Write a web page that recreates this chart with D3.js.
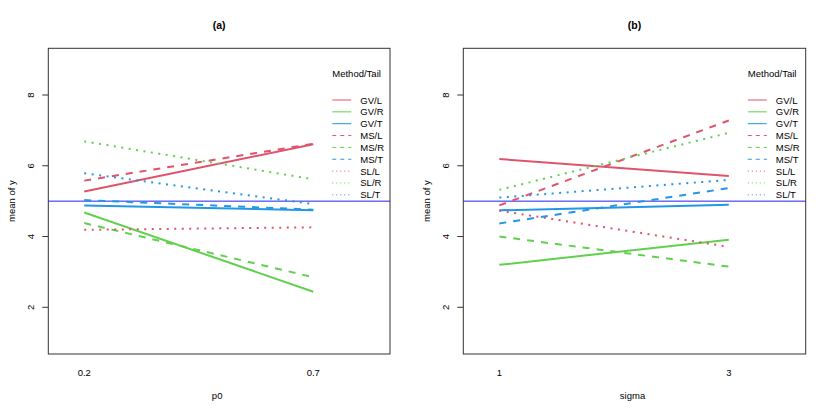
<!DOCTYPE html>
<html lang="en">
<head>
<meta charset="UTF-8" />
<title>Interaction plots</title>
<script src="https://d3js.org/d3.v7.min.js"></script>
<style>
  body { margin: 0; background: #fff; }
  svg { display: block; font-family: "Liberation Sans", Arial, sans-serif; }
  .tick-label { font-size: 9.5px; fill: #000; }
  .axis-title { font-size: 9.5px; fill: #000; }
  .panel-title { font-size: 10.5px; font-weight: bold; fill: #000; }
  .legend-text { font-size: 9.5px; fill: #000; }
</style>
</head>
<body>
<svg id="chart" width="830" height="415"></svg>
<script>
// series names (Method/Tail) and their style keys
const seriesNames = ["GV/L", "GV/R", "GV/T", "MS/L", "MS/R", "MS/T", "SL/L", "SL/R", "SL/T"];
const tails = ["L", "R", "T", "L", "R", "T", "L", "R", "T"];
const methods = ["GV", "GV", "GV", "MS", "MS", "MS", "SL", "SL", "SL"];

// panel (a): x = p0
const levelsA = ["0.2", "0.7"];
const valuesA = [
  [5.27, 6.61], [4.68, 2.44], [4.88, 4.74],
  [5.58, 6.62], [4.38, 2.85], [5.03, 4.76],
  [4.19, 4.26], [6.69, 5.62], [5.79, 4.92]
];

// panel (b): x = sigma
const levelsB = ["1", "3"];
const valuesB = [
  [6.19, 5.71], [3.20, 3.91], [4.74, 4.90],
  [4.88, 7.28], [4.00, 3.15], [4.37, 5.37],
  [4.73, 3.71], [5.32, 6.93], [5.10, 5.60]
];

const yTicks = [2, 4, 6, 8];
const refLine = 5;

const colorMap = { L: "#DF536B", R: "#61D04F", T: "#2297E6" };
const dashMap = { GV: null, MS: "7,7", SL: "2,5.5" };
const legendDash = { GV: null, MS: "4,4", SL: "1,3" };

const svg = d3.select("#chart");

function drawPanel(opts) {
  const { left, right, top, bottom, levels, values, title, xTitle } = opts;
  const g = svg.append("g");

  const x = d3.scaleLinear().domain([0.843, 2.335]).range([left, right]);
  const y = d3.scaleLinear().domain([0.68, 9.32]).range([bottom, top]);

  // reference line at y = 5
  g.append("line")
    .attr("x1", left).attr("x2", right)
    .attr("y1", y(refLine)).attr("y2", y(refLine))
    .attr("stroke", "#2222ee").attr("stroke-width", 1);

  const line = d3.line().x((d, i) => x(i + 1)).y(d => y(d));

  g.selectAll("path.series")
    .data(values)
    .enter()
    .append("path")
    .attr("class", "series")
    .attr("d", d => line(d))
    .attr("fill", "none")
    .attr("stroke", (d, i) => colorMap[tails[i]])
    .attr("stroke-width", 2)
    .attr("stroke-dasharray", (d, i) => dashMap[methods[i]]);

  // box
  g.append("rect")
    .attr("x", left).attr("y", top)
    .attr("width", right - left).attr("height", bottom - top)
    .attr("fill", "none").attr("stroke", "#333").attr("stroke-width", 1);

  // y axis
  yTicks.forEach(t => {
    g.append("line")
      .attr("x1", left - 6).attr("x2", left)
      .attr("y1", y(t)).attr("y2", y(t))
      .attr("stroke", "#333");
    g.append("text")
      .attr("class", "tick-label")
      .attr("transform", `translate(${left - 14},${y(t)}) rotate(-90)`)
      .attr("text-anchor", "middle")
      .text(t);
  });

  // x tick labels (no tick marks)
  levels.forEach((lv, i) => {
    g.append("text")
      .attr("class", "tick-label")
      .attr("x", x(i + 1)).attr("y", 376)
      .attr("text-anchor", "middle")
      .text(lv);
  });

  g.append("text")
    .attr("class", "axis-title")
    .attr("x", (left + right) / 2 - 2).attr("y", 399)
    .attr("text-anchor", "middle")
    .text(xTitle);

  g.append("text")
    .attr("class", "axis-title")
    .attr("transform", `translate(${left - 33},${(top + bottom) / 2}) rotate(-90)`)
    .attr("text-anchor", "middle")
    .text("mean of  y");

  g.append("text")
    .attr("class", "panel-title")
    .attr("x", (left + right) / 2).attr("y", 29)
    .attr("text-anchor", "middle")
    .text(title);

  // legend
  const lx = x(2) + 19;
  g.append("text")
    .attr("class", "legend-text")
    .attr("x", lx).attr("y", 77)
    .text("Method/Tail");

  const leg = g.selectAll("g.leg")
    .data(seriesNames)
    .enter()
    .append("g")
    .attr("transform", (d, i) => `translate(${lx},${100 + i * 11.85})`);
  leg.append("line")
    .attr("x1", 0).attr("x2", 19)
    .attr("stroke", (d, i) => colorMap[tails[i]])
    .attr("stroke-width", 1)
    .attr("stroke-dasharray", (d, i) => legendDash[methods[i]]);
  leg.append("text")
    .attr("class", "legend-text")
    .attr("x", 28).attr("y", 3.5)
    .text(d => d);
}

drawPanel({ left: 48.3, right: 390, top: 48.3, bottom: 354,
  levels: levelsA, values: valuesA, title: "(a)", xTitle: "p0" });
drawPanel({ left: 463.3, right: 805.7, top: 48.3, bottom: 354,
  levels: levelsB, values: valuesB, title: "(b)", xTitle: "sigma" });
</script>
</body>
</html>
